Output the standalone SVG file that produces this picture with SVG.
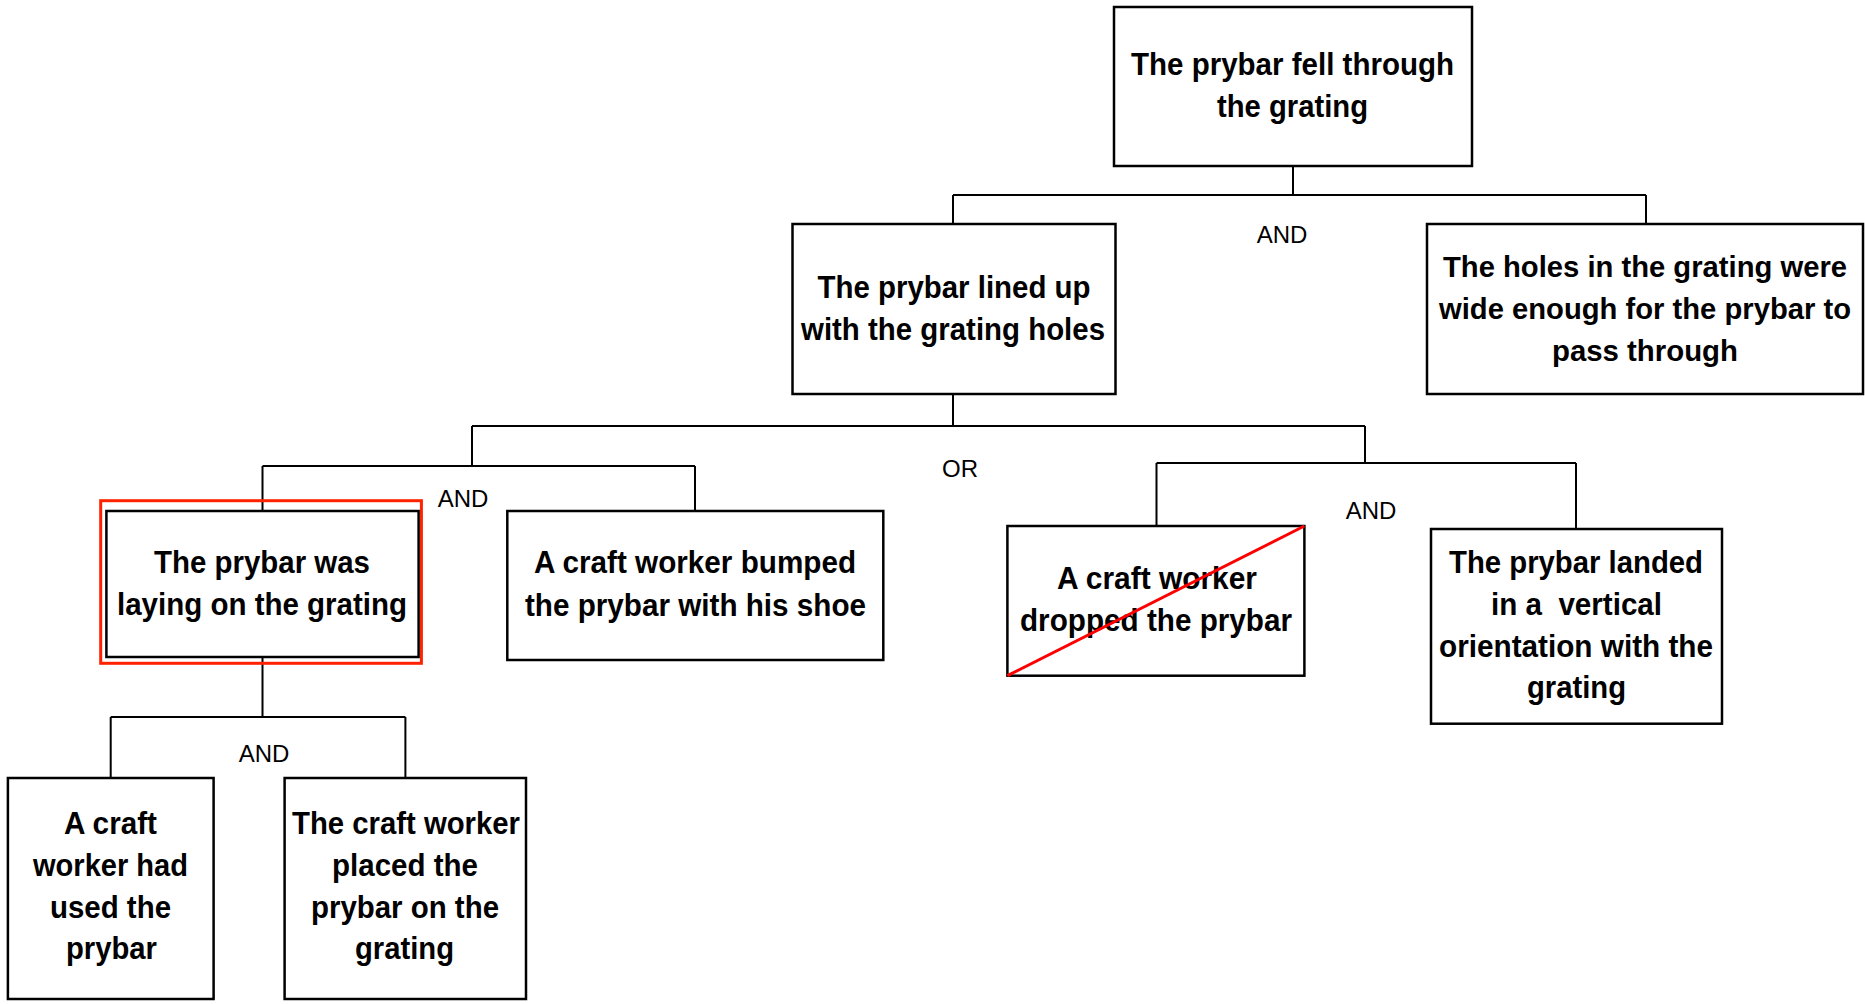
<svg xmlns="http://www.w3.org/2000/svg" width="1865" height="1004" viewBox="0 0 1865 1004">
<style>
.box{fill:#fff;stroke:#000;stroke-width:2.5}
.t{font-family:"Liberation Sans",Arial,sans-serif;font-weight:bold;font-size:32px;text-anchor:middle;fill:#000}
.s{font-size:29.5px}
.lbl{font-family:"Liberation Sans",Arial,sans-serif;font-size:24px;text-anchor:middle;fill:#000}
.c{fill:none;stroke:#000;stroke-width:2}
</style>
<rect width="1865" height="1004" fill="#fff"/>
<g id="connectors">
<path class="c" d="M1293,166V195M953,195H1646M953,195V224M1646,195V224"/>
<path class="c" d="M953,394V426M472,426H1365M472,426V466M1365,426V463"/>
<path class="c" d="M262.5,466H695M262.5,466V511M695,466V511"/>
<path class="c" d="M1156.5,463H1576M1156.5,463V526M1576,463V529"/>
<path class="c" d="M262.5,657V717M110.7,717H405.4M110.7,717V778M405.4,717V778"/>
<text class="lbl" x="1282" y="243">AND</text>
<text class="lbl" x="960" y="477">OR</text>
<text class="lbl" x="463" y="507">AND</text>
<text class="lbl" x="1371" y="519">AND</text>
<text class="lbl" x="264" y="762">AND</text>
</g>
<g id="n_top">
<rect class="box" x="1114" y="7" width="358" height="159"/>
<text class="t" x="1292.5" y="75" textLength="323" lengthAdjust="spacingAndGlyphs">The prybar fell through</text>
<text class="t" x="1292.5" y="117" textLength="151" lengthAdjust="spacingAndGlyphs">the grating</text>
</g>
<g id="n_lined">
<rect class="box" x="792.5" y="224" width="323" height="170"/>
<text class="t" x="954" y="298" textLength="273" lengthAdjust="spacingAndGlyphs">The prybar lined up</text>
<text class="t" x="953" y="340" textLength="304" lengthAdjust="spacingAndGlyphs">with the grating holes</text>
</g>
<g id="n_holes">
<rect class="box" x="1427" y="224" width="436" height="170"/>
<text class="t s" x="1645" y="277" textLength="404" lengthAdjust="spacingAndGlyphs">The holes in the grating were</text>
<text class="t s" x="1645" y="319" textLength="412" lengthAdjust="spacingAndGlyphs">wide enough for the prybar to</text>
<text class="t s" x="1645" y="361" textLength="186" lengthAdjust="spacingAndGlyphs">pass through</text>
</g>
<g id="n_laying">
<rect x="100.7" y="500.7" width="320.7" height="162.6" fill="none" stroke="#ff2200" stroke-width="3"/>
<rect class="box" x="106.4" y="511" width="312.2" height="146"/>
<text class="t" x="262" y="573" textLength="216" lengthAdjust="spacingAndGlyphs">The prybar was</text>
<text class="t" x="262" y="615" textLength="290" lengthAdjust="spacingAndGlyphs">laying on the grating</text>
</g>
<g id="n_bumped">
<rect class="box" x="507.3" y="511" width="376" height="149"/>
<text class="t" x="695" y="573" textLength="322" lengthAdjust="spacingAndGlyphs">A craft worker bumped</text>
<text class="t" x="695.5" y="616" textLength="341" lengthAdjust="spacingAndGlyphs">the prybar with his shoe</text>
</g>
<g id="n_dropped">
<rect class="box" x="1007.4" y="526" width="297" height="149.7"/>
<text class="t" x="1157" y="589" textLength="200" lengthAdjust="spacingAndGlyphs">A craft worker</text>
<text class="t" x="1156" y="631" textLength="272" lengthAdjust="spacingAndGlyphs">dropped the prybar</text>
<line x1="1007.4" y1="675.7" x2="1304.4" y2="526" stroke="#ff0000" stroke-width="3"/>
</g>
<g id="n_landed">
<rect class="box" x="1431" y="529" width="291" height="194.7"/>
<text class="t" x="1576" y="573" textLength="254" lengthAdjust="spacingAndGlyphs">The prybar landed</text>
<text class="t" x="1576.5" y="615" textLength="171" lengthAdjust="spacingAndGlyphs" xml:space="preserve">in a  vertical</text>
<text class="t" x="1576" y="657" textLength="274" lengthAdjust="spacingAndGlyphs">orientation with the</text>
<text class="t" x="1576.5" y="698" textLength="99" lengthAdjust="spacingAndGlyphs">grating</text>
</g>
<g id="n_used">
<rect class="box" x="7.9" y="778" width="205.7" height="221"/>
<text class="t" x="110.5" y="834" textLength="93" lengthAdjust="spacingAndGlyphs">A craft</text>
<text class="t" x="110.5" y="876" textLength="155" lengthAdjust="spacingAndGlyphs">worker had</text>
<text class="t" x="110.5" y="918" textLength="121" lengthAdjust="spacingAndGlyphs">used the</text>
<text class="t" x="111.5" y="959" textLength="91" lengthAdjust="spacingAndGlyphs">prybar</text>
</g>
<g id="n_placed">
<rect class="box" x="284.6" y="778" width="241.4" height="221"/>
<text class="t" x="406" y="834" textLength="228" lengthAdjust="spacingAndGlyphs">The craft worker</text>
<text class="t" x="405" y="876" textLength="146" lengthAdjust="spacingAndGlyphs">placed the</text>
<text class="t" x="405" y="918" textLength="188" lengthAdjust="spacingAndGlyphs">prybar on the</text>
<text class="t" x="404.5" y="959" textLength="99" lengthAdjust="spacingAndGlyphs">grating</text>
</g>
</svg>
